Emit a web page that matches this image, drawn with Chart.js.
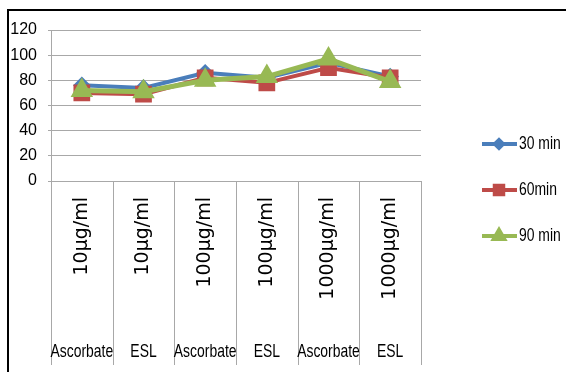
<!DOCTYPE html>
<html>
<head>
<meta charset="utf-8">
<script src="https://cdn.jsdelivr.net/npm/chart.js@4/dist/chart.umd.min.js"></script>
<style>
  html, body { margin: 0; padding: 0; background: #fff; }
  #frame { position: absolute; left: 7px; top: 9px; width: 600px; height: 400px;
           border-left: 2px solid #000; border-top: 2px solid #000; }
  #wrap { position: absolute; left: 0; top: 0; width: 566px; height: 372px; }
</style>
</head>
<body>
<div id="frame"></div>
<div id="wrap"><canvas id="chart-area" width="566" height="372"></canvas></div>
<script>
var categories = ['10µg/ml', '10µg/ml', '100µg/ml', '100µg/ml', '1000µg/ml', '1000µg/ml'];
var groups = ['Ascorbate', 'ESL', 'Ascorbate', 'ESL', 'Ascorbate', 'ESL'];
var seriesNames = ['30 min', '60min', '90 min'];
var min30 = [76, 74, 86, 82, 94, 83];
var min60 = [70, 69, 82, 78, 90, 82];
var min90 = [72, 71, 80, 83, 97, 79];
var yTicks = [0, 20, 40, 60, 80, 100, 120];

var chartColors = {
    blue: '#4A7EBB',
    red: '#BE4B48',
    green: '#98B954',
    grid: '#a8a8a8'
};

var sans = "'Liberation Sans', Arial, sans-serif";

// draws text squeezed sideways and a bit taller, to get the narrow look of the original font
function narrowText(ctx, text, x, y, align) {
    ctx.save();
    ctx.translate(x, y);
    ctx.scale(0.87, 1.2);
    ctx.textAlign = align;
    ctx.fillText(text, 0, 0);
    ctx.restore();
}

// vertical separators under the axis + group names (Ascorbate / ESL)
var groupLabels = {
    id: 'groupLabels',
    afterDraw: function(chart) {
        var ctx = chart.ctx;
        var x = chart.scales.x;
        var top = chart.chartArea.bottom;
        var half = (x.getPixelForValue(1) - x.getPixelForValue(0)) / 2;
        ctx.save();
        ctx.strokeStyle = chartColors.grid;
        ctx.lineWidth = 1;
        for (var i = 0; i <= categories.length; i++) {
            var px = Math.round(x.getPixelForValue(0) - half + i * 2 * half) + 0.5;
            ctx.beginPath();
            ctx.moveTo(px, top);
            ctx.lineTo(px, 365);
            ctx.stroke();
        }
        ctx.fillStyle = '#000';
        ctx.font = "16px " + sans;
        ctx.textBaseline = 'middle';
        for (var j = 0; j < groups.length; j++) {
            narrowText(ctx, groups[j], x.getPixelForValue(j), 352, 'center');
        }
        ctx.restore();
    }
};

// legend with line + marker, like the original
var lineLegend = {
    id: 'lineLegend',
    afterDraw: function(chart) {
        var ctx = chart.ctx;
        var sets = chart.data.datasets;
        ctx.save();
        for (var i = 0; i < sets.length; i++) {
            var ds = sets[i];
            var y = 144 + i * 46;
            ctx.strokeStyle = ds.borderColor;
            ctx.fillStyle = ds.borderColor;
            ctx.lineWidth = 4;
            ctx.beginPath();
            ctx.moveTo(482, y);
            ctx.lineTo(517, y);
            ctx.stroke();
            Chart.helpers.drawPoint(ctx, {
                pointStyle: ds.pointStyle,
                radius: ds.legendRadius,
                borderWidth: 1,
                rotation: 0
            }, 499, y);
            ctx.fillStyle = '#000';
            ctx.font = "16px " + sans;
            ctx.textBaseline = 'middle';
            narrowText(ctx, ds.label, 519, y, 'left');
        }
        ctx.restore();
    }
};

function makeSet(label, data, color, style, radius, legendRadius, width, order) {
    return {
        label: label,
        data: data,
        borderColor: color,
        backgroundColor: color,
        pointBackgroundColor: color,
        pointBorderColor: color,
        pointStyle: style,
        pointRadius: radius,
        legendRadius: legendRadius,
        borderWidth: width,
        tension: 0,
        order: order
    };
}

window.onload = function() {
    var ctx = document.getElementById('chart-area').getContext('2d');
    window.myLine = new Chart(ctx, {
        type: 'line',
        data: {
            labels: categories,
            datasets: [
                makeSet(seriesNames[0], min30, chartColors.blue, 'rectRot', 6, 4, 4, 3),
                makeSet(seriesNames[1], min60, chartColors.red, 'rect', 9, 6, 4, 2),
                makeSet(seriesNames[2], min90, chartColors.green, 'triangle', 8, 6, 5, 1)
            ]
        },
        options: {
            responsive: false,
            animation: false,
            layout: { padding: { left: 0, top: 30, right: 145, bottom: 0 } },
            plugins: {
                legend: { display: false },
                tooltip: { enabled: false }
            },
            scales: {
                x: {
                    offset: true,
                    grid: { display: false },
                    border: { display: false },
                    ticks: {
                        minRotation: 90,
                        maxRotation: 90,
                        padding: 8,
                        color: '#000',
                        font: { family: "'DejaVu Sans', sans-serif", size: 19 }
                    },
                    afterFit: function(scale) { scale.height = 191; }
                },
                y: {
                    min: 0,
                    max: 120,
                    afterBuildTicks: function(scale) {
                        scale.ticks = yTicks.map(function(v) { return { value: v }; });
                    },
                    grid: { color: chartColors.grid, tickLength: 3 },
                    border: { color: chartColors.grid },
                    ticks: {
                        autoSkip: false,
                        padding: 11,
                        color: '#000',
                        font: { family: sans, size: 16 }
                    },
                    afterFit: function(scale) { scale.width = 51; }
                }
            }
        },
        plugins: [groupLabels, lineLegend]
    });
};
</script>
</body>
</html>
